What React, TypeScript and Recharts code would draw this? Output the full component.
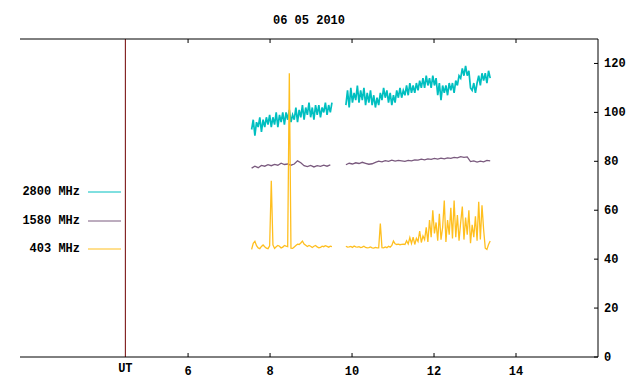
import { LineChart, Line, XAxis, YAxis, ReferenceLine, Legend, Label } from "recharts"

const title = "06 05 2010"
const seriesNames = ["2800 MHz", "1580 MHz", "403 MHz"]
const seriesColors = ["#00bfc0", "#7a5a7e", "#ffbf1f"]

const xTicks = [4.47, 6, 8, 10, 12, 14]
const topTicks = [6, 8, 10, 12, 14]
const yTicks = [0, 20, 40, 60, 80, 100, 120]
const utHour = 4.47

// sample start times (UT hours) of the two recording blocks
const startA = 7.55
const startB = 9.85
const gapHour = 9.7

// 2800 MHz, one sample every 0.04 h
const mhz2800A = [
  93, 97, 90.5, 96, 94, 98, 92, 97, 94, 98,
  95, 99, 94, 98, 95, 100, 94, 99, 96, 100,
  95, 100, 97, 101, 96, 99, 97, 102, 96, 101,
  98, 103, 97, 102, 99, 104, 98, 102, 97, 103,
  99, 103, 98, 102, 100, 104, 99, 103, 100, 104,
]
const mhz2800B = [
  103, 109, 102, 110, 104, 108, 105, 111, 104, 109,
  105, 110, 103, 108, 104, 109, 103, 107, 102, 106,
  103, 108, 105, 110, 106, 109, 104, 108, 103, 107,
  104, 109, 106, 110, 106, 109, 107, 111, 107, 112,
  108, 111, 108, 112, 109, 113, 110, 114, 110, 115,
  111, 114, 110, 115, 111, 114, 107, 112, 105, 111,
  108, 111, 107, 112, 109, 112, 108, 113, 111, 115,
  114, 118, 115, 119, 115, 117, 110, 109, 112, 108,
  112, 115, 111, 116, 113, 116, 112, 117, 114,
]

// 1580 MHz, one sample every 0.08 h
const mhz1580A = [
  77.2, 78.0, 77.4, 78.3, 78.0, 78.6, 78.2, 78.7, 78.4, 79.2,
  78.7, 78.9, 78.4, 78.9, 80.2, 79.4, 78.2, 77.8, 78.3, 77.7,
  78.2, 77.9, 78.4, 78.0, 78.5,
]
const mhz1580B = [
  78.6, 79.2, 78.9, 79.4, 79.1, 79.6, 79.2, 78.8, 79.0, 79.6,
  80.1, 79.8, 80.3, 80.0, 80.5, 80.1, 80.4, 80.2, 80.0, 80.4,
  80.2, 80.6, 80.5, 80.9, 80.6, 81.0, 80.8, 81.2, 80.9, 81.3,
  81.0, 81.4, 81.2, 81.6, 81.4, 81.9, 81.6, 81.8, 79.9, 80.2,
  79.7, 80.1, 79.8, 80.4, 80.2,
]

// 403 MHz, one sample every 0.04 h
const mhz403A = [
  44, 46.5, 47.3, 45.5, 44.6, 44.3, 45.2, 45.8, 45.1, 44.5,
  44.3, 45.5, 72, 45.8, 44.4, 45.1, 45.6, 45.3, 44.6, 44.9,
  45.6, 45.3, 45.1, 116, 44.5, 44.4, 45.0, 45.6, 46.1, 46.0,
  46.6, 47.4, 46.2, 45.7, 45.2, 45.6, 45.3, 44.8, 45.3, 45.6,
  45.0, 44.6, 44.8, 45.3, 45.1, 45.5, 45.2, 44.9, 45.3, 45.1,
]
const mhz403B = [
  45.3, 44.9, 45.0, 45.2, 44.8, 45.4, 45.0, 44.9, 45.1, 44.7,
  44.9, 45.3, 44.8, 44.6, 44.7, 45.0, 44.6, 44.5, 44.8, 44.6,
  44.6, 54.6, 44.7, 44.6, 45.0, 44.7, 45.3, 44.9, 45.6, 47.4,
  46.3, 46.0, 46.1, 45.9, 46.0, 46.1, 46.0, 47.5, 46.2, 48.8,
  46.4, 49.0, 46.0, 48.5, 47.2, 51.5, 46.8, 49.5, 48.0, 53.0,
  47.0, 56.0, 49.0, 60.0, 50.5, 55.0, 47.5, 58.5, 48.0, 53.0,
  64.0, 47.0, 56.0, 50.0, 61.0, 48.5, 64.0, 49.0, 58.0, 47.5,
  55.0, 61.5, 48.0, 57.0, 50.0, 60.0, 46.5, 54.0, 49.0, 57.5,
  47.5, 63.5, 48.0, 62.0, 52.0, 44.5, 44.0, 46.0, 47.4,
]

const toPoints = (a: number[], b: number[], step: number) => [
  ...a.map((v, i) => ({ h: +(startA + i * step).toFixed(3), v })),
  { h: gapHour, v: null },
  ...b.map((v, i) => ({ h: +(startB + i * step).toFixed(3), v })),
]

const data2800 = toPoints(mhz2800A, mhz2800B, 0.04)
const data1580 = toPoints(mhz1580A, mhz1580B, 0.08)
const data403 = toPoints(mhz403A, mhz403B, 0.04)

const font = '"Liberation Mono", "DejaVu Sans Mono", monospace'

// gnuplot style: tick marks point into the plot
const BottomTick = ({ x, y, payload }: any) => {
  const ut = payload.value === utHour
  return (
    <g>
      {!ut && <line x1={x} x2={x} y1={y} y2={y - 4} stroke="#000" />}
      <text x={x} y={y + (ut ? 15 : 18)} textAnchor="middle" fontFamily={font} fontSize={12} fontWeight="bold" fill="#000">
        {ut ? "UT" : payload.value}
      </text>
    </g>
  )
}

const TopTick = ({ x, y }: any) => <line x1={x} x2={x} y1={y} y2={y + 4} stroke="#000" />

const RightTick = ({ x, y, payload }: any) => (
  <g>
    <line x1={x} x2={x - 4} y1={y} y2={y} stroke="#000" />
    <text x={x + 6} y={y + 4} textAnchor="start" fontFamily={font} fontSize={12} fontWeight="bold" fill="#000">
      {payload.value}
    </text>
  </g>
)

const renderLegend = ({ payload }: any) => {
  const items = seriesNames.map((n) => (payload || []).find((p: any) => p.value === n)).filter(Boolean)
  return (
    <div style={{ fontFamily: font, fontSize: 12, fontWeight: "bold", color: "#000" }}>
      {items.map((e: any) => (
        <div key={e.value} style={{ display: "flex", alignItems: "center", height: 28.5 }}>
          <span style={{ width: 80, textAlign: "right", whiteSpace: "pre" }}>{e.value}</span>
          <svg width={41} height={4} style={{ display: "block" }}>
            <line x1={8} x2={41} y1={2} y2={2} stroke={e.color} strokeWidth={1} />
          </svg>
        </div>
      ))}
    </div>
  )
}

export default function App() {
  return (
    <div style={{ position: "absolute", left: 0, top: 0, background: "#fff" }}>
      <LineChart width={640} height={384} margin={{ top: 0, right: 0, bottom: 0, left: 20 }}>
        <XAxis
          xAxisId="b"
          dataKey="h"
          type="number"
          domain={[1.9, 16]}
          allowDataOverflow
          ticks={xTicks}
          height={27}
          stroke="#000"
          tickLine={false}
          tickSize={0}
          tickMargin={0}
          tick={<BottomTick />}
          interval={0}
        />
        <XAxis
          xAxisId="t"
          orientation="top"
          dataKey="h"
          type="number"
          domain={[1.9, 16]}
          allowDataOverflow
          ticks={topTicks}
          height={39}
          stroke="#000"
          tickLine={false}
          tickSize={0}
          tickMargin={0}
          tick={<TopTick />}
          interval={0}
        >
          <Label value={title} position="center" fontFamily={font} fontSize={12} fontWeight="bold" fill="#000" />
        </XAxis>
        <YAxis yAxisId="l" domain={[0, 130]} width={0} tick={false} tickLine={false} stroke="#000" />
        <YAxis
          yAxisId="r"
          orientation="right"
          domain={[0, 130]}
          allowDataOverflow
          ticks={yTicks}
          width={42}
          stroke="#000"
          tickLine={false}
          tickSize={0}
          tickMargin={0}
          tick={<RightTick />}
          interval={0}
        />
        <ReferenceLine xAxisId="b" yAxisId="r" x={utHour} stroke="#700000" strokeWidth={1} />
        <Legend
          layout="vertical"
          align="center"
          verticalAlign="middle"
          content={renderLegend}
          wrapperStyle={{ left: 0, top: 178, width: 125 }}
        />
        <Line xAxisId="b" yAxisId="r" data={data2800} dataKey="v" name={seriesNames[0]} stroke={seriesColors[0]} strokeWidth={1.7} dot={false} isAnimationActive={false} />
        <Line xAxisId="b" yAxisId="r" data={data1580} dataKey="v" name={seriesNames[1]} stroke={seriesColors[1]} strokeWidth={1.3} dot={false} isAnimationActive={false} />
        <Line xAxisId="b" yAxisId="r" data={data403} dataKey="v" name={seriesNames[2]} stroke={seriesColors[2]} strokeWidth={1.3} dot={false} isAnimationActive={false} />
      </LineChart>
    </div>
  )
}
